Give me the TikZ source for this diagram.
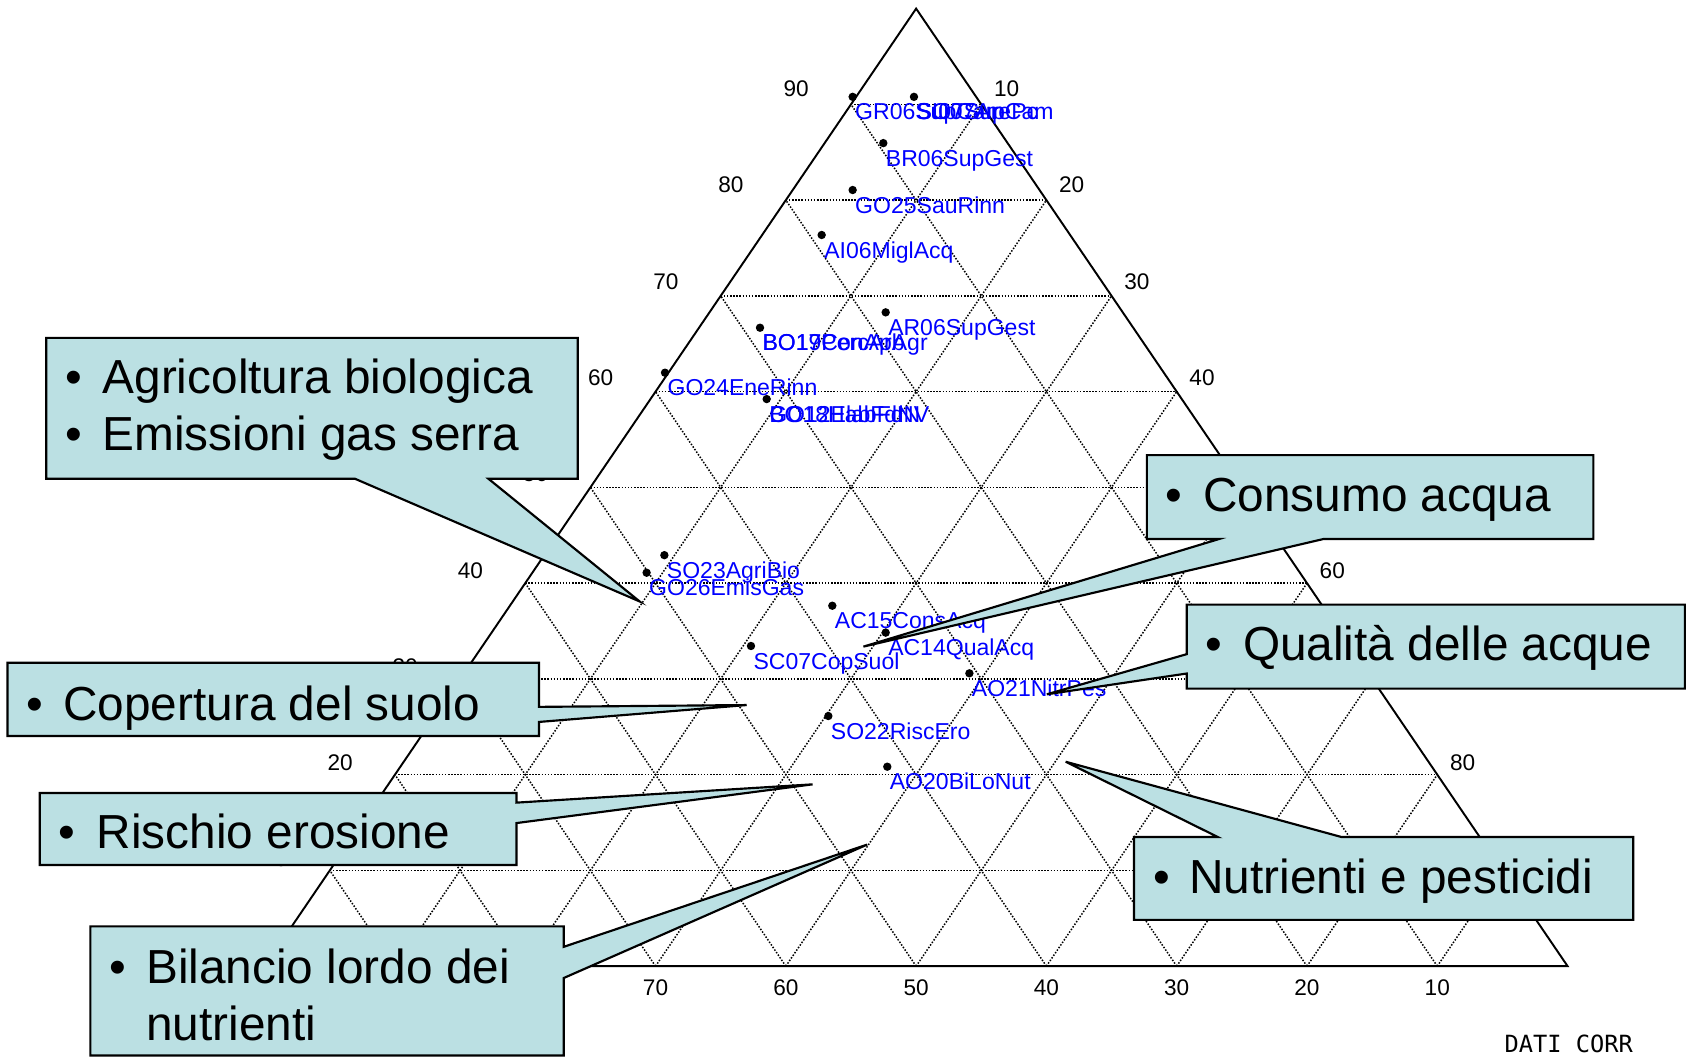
\documentclass[tikz,border=0pt]{standalone}
\usepackage{fontspec}
\setmainfont{Liberation Sans}
\newfontfamily\monof{DejaVu Sans Mono}
\usetikzlibrary{calc}
\definecolor{cfill}{RGB}{187,224,227}
\definecolor{lblue}{RGB}{0,0,255}
\newcommand\tdot[3]{\node[dotm] (#1) at (#2,#3) {};}
\newcommand\tlab[3]{\node[lbl] (#1) at ($(#2)+(2,21.5)$) {#3};}
\begin{document}
\begin{tikzpicture}[x=0.5pt,y=-0.5pt,
  gridl/.style={line width=0.7pt, dash pattern=on 0.7pt off 0.75pt},
  tri/.style={line width=0.9pt},
  axl/.style={font=\fontsize{10.5}{12}\selectfont, inner sep=0pt},
  dotm/.style={circle, fill=black, inner sep=0pt, minimum size=3.9pt},
  lbl/.style={font=\fontsize{10.7}{12}\selectfont, text=lblue, anchor=base west, inner sep=0pt},
  cbox/.style={fill=cfill, draw=black, line width=1pt},
  ctxt/.style={font=\fontsize{22.2}{26}\selectfont, anchor=base west, inner sep=0pt},
  cbul/.style={font=\fontsize{22.2}{26}\selectfont, anchor=base, inner sep=0pt}]
\useasboundingbox (0,0) rectangle (1568,982);
\fill[white] (0,0) rectangle (1568,982);
% triangle
\coordinate (A) at (851.5,8);
\coordinate (L) at (246,898);
\coordinate (R) at (1457,898);
\foreach \k in {1,...,9}{
  \pgfmathsetmacro\f{\k/10}
  \pgfmathsetmacro\g{1-\k/10}
  \draw[gridl] ($(L)!\f!(A)$) -- ($(R)!\f!(A)$);
  \draw[gridl] ($(L)!\f!(R)$) -- ($(R)!\g!(A)$);
  \draw[gridl] ($(L)!\f!(R)$) -- ($(L)!\f!(A)$);
}
\draw[tri] (A) -- (L) -- (R) -- cycle;
% axis labels
\foreach \k in {1,...,9}{
  \pgfmathsetmacro\f{\k/10}
  \pgfmathtruncatemacro\va{10*\k}
  \pgfmathtruncatemacro\vb{100-10*\k}
  \pgfmathsetmacro\dy{-(10+0.5*\k)}
  \node[axl] (ll\k) at ($(L)!\f!(A)+(-51,\dy)$) {\va};
  \node[axl] (rl\k) at ($(R)!\f!(A)+(23.5,\dy)$) {\vb};
  \node[axl] (bl\k) at ($(L)!\f!(R)+(0,20)$) {\vb};
}
% data points
\tdot{d1}{792.5}{90}    \tlab{d1a}{d1}{GR06SupCam}
\tdot{d2}{849.5}{90}    \tlab{d2a}{d2}{SI07SupCam} \tlab{d2b}{d2}{SO07ArePc}
\tdot{d3}{821}{133}     \tlab{d3a}{d3}{BR06SupGest}
\tdot{d4}{792.5}{176.6} \tlab{d4a}{d4}{GO25SauRinn}
\tdot{d5}{763.7}{218.4} \tlab{d5a}{d5}{AI06MiglAcq}
\tdot{d6}{823.2}{290.3} \tlab{d6a}{d6}{AR06SupGest}
\tdot{d7}{706.4}{304.6} \tlab{d7a}{d7}{BO19PercArb} \tlab{d7b}{d7}{BO17ConApAgr}
\tdot{d8}{618.1}{346.4} \tlab{d8a}{d8}{GO24EneRinn}
\tdot{d9}{712.6}{370.9} \tlab{d9a}{d9}{BO18HabFdNV} \tlab{d9b}{d9}{GO12ElabFdN}
\tdot{d10}{617.5}{516}  \tlab{d10a}{d10}{SO23AgriBio}
\tdot{d11}{601}{532.3}  \tlab{d11a}{d11}{GO26EmisGas}
\tdot{d12}{773.6}{563}  \tlab{d12a}{d12}{AC15ConsAcq}
\tdot{d13}{823.2}{588}  \tlab{d13a}{d13}{AC14QualAcq}
\tdot{d14}{698}{600.4}  \tlab{d14a}{d14}{SC07CopSuol}
\tdot{d15}{901}{625.8}  \tlab{d15a}{d15}{AO21NitrPes}
\tdot{d16}{769.9}{665.5} \tlab{d16a}{d16}{SO22RiscEro}
\tdot{d17}{824.7}{712.6} \tlab{d17a}{d17}{AO20BiLoNut}
% callouts
\coordinate (tip1) at (594.5,559);
\coordinate (tip2) at (802.5,601);
\coordinate (tip3) at (973,645.3);
\coordinate (tip4) at (694,655.3);
\coordinate (tip5) at (755.3,729);
\coordinate (tip6) at (806,785);
\coordinate (tip7) at (990.5,708);
\draw[cbox] (43,314) -- (537,314) -- (537,445) -- (454,445) -- (tip1) -- (330,445) -- (43,445) -- cycle;
\draw[cbox] (1066,423) -- (1481,423) -- (1481,501) -- (1230,501) -- (tip2) -- (1133,501) -- (1066,501) -- cycle;
\draw[cbox] (1103,562) -- (1566,562) -- (1566,640) -- (1103,640) -- (1103,626) -- (tip3) -- (1103,608) -- cycle;
\draw[cbox] (7,616) -- (501,616) -- (501,657) -- (tip4) -- (501,671) -- (501,684) -- (7,684) -- cycle;
\draw[cbox] (37,737) -- (480,737) -- (480,746) -- (tip5) -- (480,765) -- (480,804) -- (37,804) -- cycle;
\draw[cbox] (84,861) -- (524,861) -- (524,880) -- (tip6) -- (524,909) -- (524,981) -- (84,981) -- cycle;
\draw[cbox] (1054,778) -- (1132,778) -- (tip7) -- (1247,778) -- (1518,778) -- (1518,855) -- (1054,855) -- cycle;
% callout texts
\node[cbul] (b1a) at (68.5,366) {•}; \node[ctxt] (t1a) at (95,366) {Agricoltura biologica};
\node[cbul] (b1b) at (68.5,419) {•}; \node[ctxt] (t1b) at (95,419) {Emissioni gas serra};
\node[cbul] (b2) at (1091.5,475) {•}; \node[ctxt] (t2) at (1118,475) {Consumo acqua};
\node[cbul] (b3) at (1128.5,614) {•}; \node[ctxt] (t3) at (1155,614) {Qualità delle acque};
\node[cbul] (b4) at (32.5,670) {•}; \node[ctxt] (t4) at (58.5,670) {Copertura del suolo};
\node[cbul] (b5) at (62.5,789) {•}; \node[ctxt] (t5) at (89.5,789) {Rischio erosione};
\node[cbul] (b6) at (109.5,914) {•}; \node[ctxt] (t6a) at (135.5,914) {Bilancio lordo dei};
\node[ctxt] (t6b) at (135.5,967) {nutrienti};
\node[cbul] (b7) at (1079.5,830) {•}; \node[ctxt] (t7) at (1105,830) {Nutrienti e pesticidi};
% footer
\node[font=\monof\fontsize{11}{13}\selectfont, inner sep=0pt] (dc) at (1458,970) {DATI CORR};
\end{tikzpicture}
\end{document}
